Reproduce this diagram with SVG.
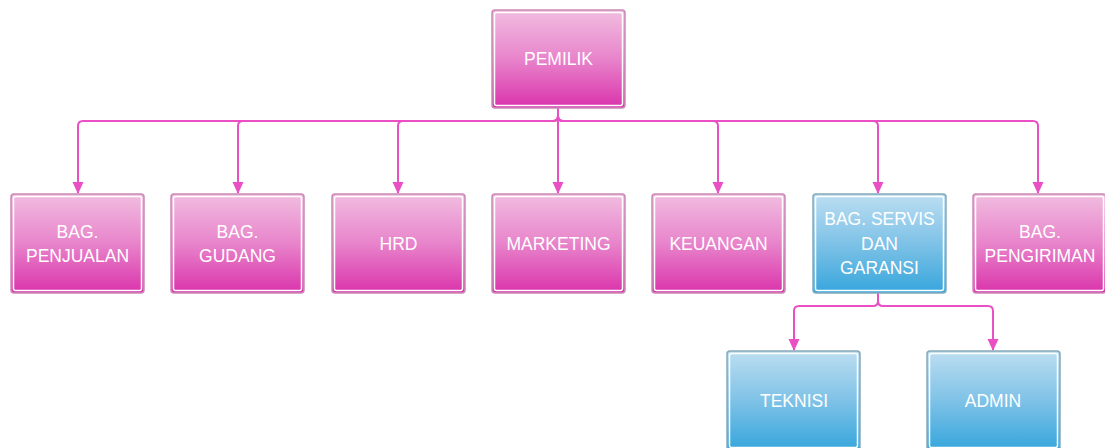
<svg xmlns="http://www.w3.org/2000/svg" width="1105" height="448" viewBox="0 0 1105 448">
<defs>
<linearGradient id="gp" x1="0" y1="0" x2="0" y2="1">
<stop offset="0" stop-color="#f1bde0"/>
<stop offset="0.5" stop-color="#e884cb"/>
<stop offset="1" stop-color="#da33ab"/>
</linearGradient>
<linearGradient id="gb" x1="0" y1="0" x2="0" y2="1">
<stop offset="0" stop-color="#bcdef1"/>
<stop offset="0.5" stop-color="#7fc2e7"/>
<stop offset="1" stop-color="#36a6dc"/>
</linearGradient>
<marker id="ah" markerWidth="12" markerHeight="12" viewBox="0 0 12 12" refX="11" refY="6" orient="auto" markerUnits="userSpaceOnUse">
<path d="M0,0.5 L12,6 L0,11.5 Z" fill="#ea4fc4"/>
</marker>
</defs>
<style>
.pk{fill:url(#gp);stroke:#c98ab5;stroke-width:1.5}
.bl{fill:url(#gb);stroke:#86a9b9;stroke-width:1.5}
.in{fill:none;stroke:#ffffff;stroke-width:1.5}
.t{font-family:"Liberation Sans",Arial,sans-serif;font-size:17.5px;fill:#ffffff;text-anchor:middle}
.c{fill:none;stroke:#ea4fc4;stroke-width:2;marker-end:url(#ah)}
</style>
<g id="connectors">
<path class="c" d="M558,108 V116 Q558,121 553,121 H83 Q78,121 78,126 V193"/>
<path class="c" d="M558,108 V116 Q558,121 553,121 H243 Q238,121 238,126 V193"/>
<path class="c" d="M558,108 V116 Q558,121 553,121 H403 Q398,121 398,126 V193"/>
<path class="c" d="M558,108 V193"/>
<path class="c" d="M558,108 V116 Q558,121 563,121 H713 Q718,121 718,126 V193"/>
<path class="c" d="M558,108 V116 Q558,121 563,121 H873 Q878,121 878,126 V193"/>
<path class="c" d="M558,108 V116 Q558,121 563,121 H1033 Q1038,121 1038,126 V193"/>
<path class="c" d="M878,293 V301 Q878,306 873,306 H799 Q794,306 794,311 V350"/>
<path class="c" d="M878,293 V301 Q878,306 883,306 H988 Q993,306 993,311 V350"/>
</g>
<g id="n-pemilik">
<rect class="pk" x="492" y="10" width="133" height="98" rx="3"/>
<rect class="in" x="494.5" y="12.5" width="128" height="93" rx="2"/>
<text class="t" x="558.5" y="65">PEMILIK</text>
</g>
<g id="n-penjualan">
<rect class="pk" x="11" y="194" width="133" height="99" rx="3"/>
<rect class="in" x="13.5" y="196.5" width="128" height="94" rx="2"/>
<text class="t" x="77.5" y="238">BAG.</text>
<text class="t" x="77.5" y="262">PENJUALAN</text>
</g>
<g id="n-gudang">
<rect class="pk" x="171" y="194" width="133" height="99" rx="3"/>
<rect class="in" x="173.5" y="196.5" width="128" height="94" rx="2"/>
<text class="t" x="237.5" y="238">BAG.</text>
<text class="t" x="237.5" y="262">GUDANG</text>
</g>
<g id="n-hrd">
<rect class="pk" x="332" y="194" width="133" height="99" rx="3"/>
<rect class="in" x="334.5" y="196.5" width="128" height="94" rx="2"/>
<text class="t" x="398.5" y="250">HRD</text>
</g>
<g id="n-marketing">
<rect class="pk" x="492" y="194" width="133" height="99" rx="3"/>
<rect class="in" x="494.5" y="196.5" width="128" height="94" rx="2"/>
<text class="t" x="558.5" y="250">MARKETING</text>
</g>
<g id="n-keuangan">
<rect class="pk" x="652" y="194" width="133" height="99" rx="3"/>
<rect class="in" x="654.5" y="196.5" width="128" height="94" rx="2"/>
<text class="t" x="718.5" y="250">KEUANGAN</text>
</g>
<g id="n-servis">
<rect class="bl" x="813" y="194" width="133" height="99" rx="3"/>
<rect class="in" x="815.5" y="196.5" width="128" height="94" rx="2"/>
<text class="t" x="879.5" y="225">BAG. SERVIS</text>
<text class="t" x="879.5" y="250">DAN</text>
<text class="t" x="879.5" y="274">GARANSI</text>
</g>
<g id="n-pengiriman">
<rect class="pk" x="973" y="194" width="133" height="99" rx="3"/>
<rect class="in" x="975.5" y="196.5" width="128" height="94" rx="2"/>
<text class="t" x="1040" y="238">BAG.</text>
<text class="t" x="1040" y="262">PENGIRIMAN</text>
</g>
<g id="n-teknisi">
<rect class="bl" x="727" y="351" width="133" height="99" rx="3"/>
<rect class="in" x="729.5" y="353.5" width="128" height="94" rx="2"/>
<text class="t" x="794" y="407">TEKNISI</text>
</g>
<g id="n-admin">
<rect class="bl" x="927" y="351" width="133" height="99" rx="3"/>
<rect class="in" x="929.5" y="353.5" width="128" height="94" rx="2"/>
<text class="t" x="993" y="407">ADMIN</text>
</g>
</svg>
